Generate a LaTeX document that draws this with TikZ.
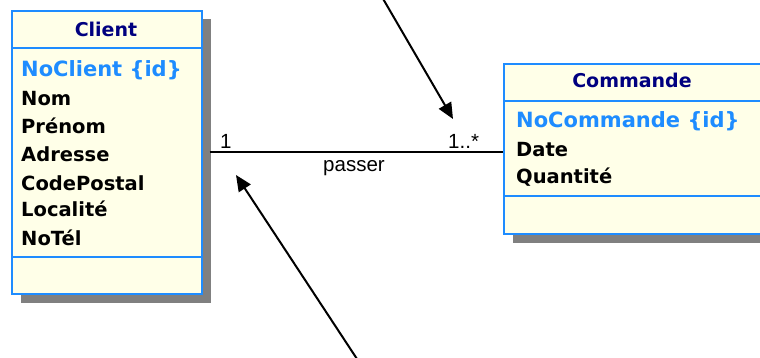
\documentclass[tikz,border=0pt]{standalone}
\usepackage{fontspec}
\setmainfont{DejaVu Sans}
\newfontfamily\arialf{Liberation Sans}
\usetikzlibrary{arrows.meta,shadows}
\definecolor{cream}{RGB}{255,255,232}
\definecolor{umlblue}{RGB}{30,140,255}
\definecolor{navy}{RGB}{0,0,128}
\definecolor{shadowgray}{RGB}{128,128,128}
\tikzset{
  classbox/.style={draw=umlblue, line width=2pt, fill=cream, inner sep=0pt, anchor=north west,
    drop shadow={shadow xshift=8.5pt, shadow yshift=-8.5pt, opacity=1, fill=shadowgray}},
  sepline/.style={umlblue, line width=2pt},
  titletxt/.style={inner sep=0pt, anchor=base, text=navy, font=\fontsize{19}{19}\selectfont\bfseries},
  idtxt/.style={inner sep=0pt, anchor=base west, text=umlblue, font=\fontsize{21}{21}\selectfont\bfseries},
  attrtxt/.style={inner sep=0pt, anchor=base west, text=black, font=\fontsize{19.5}{19.5}\selectfont\bfseries},
  multtxt/.style={inner sep=0pt, anchor=base west, font=\arialf\fontsize{20.5}{20.5}\selectfont},
  assoc/.style={black, line width=2pt},
  pointer/.style={black, line width=2pt, -{Triangle[length=16pt,width=14pt]}}
}
\begin{document}
\begin{tikzpicture}[x=1pt,y=-1pt]
\useasboundingbox (0,0) rectangle (760,358);
\clip (0,0) rectangle (760,358);
\fill[white] (0,0) rectangle (760,358);
% Client class
\node[classbox, minimum width=190pt, minimum height=283pt] (client) at (11,10) {};
\draw[sepline] (client.west |- 0,48) -- (client.east |- 0,48);
\draw[sepline] (client.west |- 0,257) -- (client.east |- 0,257);
\node[titletxt] (ctitle) at (106,37) {Client};
\node[idtxt] (cid) at (21,77) {NoClient \{id\}};
\node[attrtxt] (c1) at (21,106) {Nom};
\node[attrtxt] (c2) at (21,134) {Prénom};
\node[attrtxt] (c3) at (21,162) {Adresse};
\node[attrtxt] (c4) at (21,190) {CodePostal};
\node[attrtxt] (c5) at (21,217) {Localité};
\node[attrtxt] (c6) at (21,245) {NoTél};
% Commande class
\node[classbox, minimum width=270pt, minimum height=170pt] (commande) at (503,63) {};
\draw[sepline] (commande.west |- 0,101) -- (commande.east |- 0,101);
\draw[sepline] (commande.west |- 0,196) -- (commande.east |- 0,196);
\node[titletxt] (mtitle) at (632,88) {Commande};
\node[idtxt] (mid) at (516,128) {NoCommande \{id\}};
\node[attrtxt] (m1) at (516,157) {Date};
\node[attrtxt] (m2) at (516,184) {Quantité};
% association
\coordinate (aleft) at (209.5,152);
\draw[assoc] (aleft) -- (commande.west |- aleft);
\node[multtxt] (mult1) at (220,149) {1};
\node[multtxt] (mult2) at (448,149) {1..*};
\node[multtxt, anchor=base] (passer) at (354,172) {passer};
% pointer arrows
\coordinate (p1s) at (382,-3);
\coordinate (p1e) at (453,119);
\coordinate (p2s) at (359,362);
\coordinate (p2e) at (236,175);
\draw[pointer] (p1s) -- (p1e);
\draw[pointer] (p2s) -- (p2e);
\end{tikzpicture}
\end{document}
